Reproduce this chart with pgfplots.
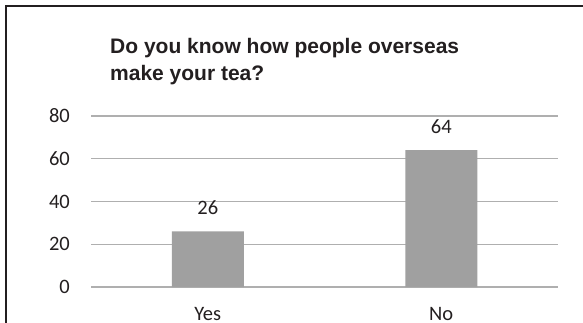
\documentclass[border=0pt]{standalone}
\usepackage{fontspec}
\setmainfont{Carlito}
\newfontfamily\titlefont{Liberation Sans}
\usepackage{pgfplots}
\pgfplotsset{compat=1.18}
\definecolor{txt}{RGB}{35,31,32}
\definecolor{barc}{RGB}{160,160,160}
\definecolor{gridc}{RGB}{175,175,175}
\begin{document}
\begin{tikzpicture}[x=1pt,y=1pt]
\useasboundingbox (0,0) rectangle (583,322);
\draw[line width=1.5pt, txt] (6,-5) -- (6,316) -- (590,316);
\node[anchor=base west, inner sep=0, text=txt, font=\titlefont\bfseries\fontsize{21}{25}\selectfont] at (110,269) {Do you know how people overseas};
\node[anchor=base west, inner sep=0, text=txt, font=\titlefont\bfseries\fontsize{21}{25}\selectfont] at (110,242) {make your tea?};
\begin{axis}[
  at={(91pt,35pt)}, anchor=south west,
  scale only axis, width=467pt, height=171pt,
  xmin=-0.5, xmax=1.5, ymin=0, ymax=80,
  ytick={0,20,40,60,80},
  xtick={0,1}, xticklabels={Yes,No},
  axis line style={draw=none},
  major tick length=0pt,
  ymajorgrids, grid style={line width=1.1pt, gridc},
  ybar, bar width=72pt,
  tick label style={font=\fontsize{20.5}{24}\selectfont, text=txt},
  /pgf/number format/assume math mode=true,
  yticklabel style={anchor=east, inner sep=0pt, xshift=-21pt},
  xticklabel style={anchor=base, inner sep=0pt, yshift=-33pt},
  nodes near coords,
  nodes near coords style={anchor=base, inner sep=0pt, yshift=17pt, font=\fontsize{20.5}{24}\selectfont, text=txt},
  clip=false,
]
\addplot[fill=barc, draw=none] coordinates {(0,26) (1,64)};
\end{axis}
\end{tikzpicture}
\end{document}
